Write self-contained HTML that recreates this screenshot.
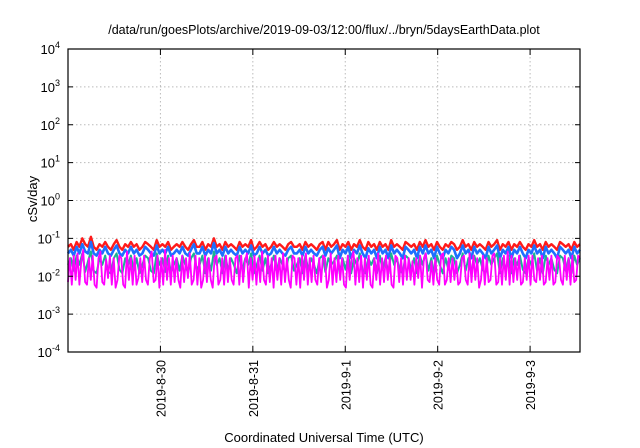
<!DOCTYPE html>
<html><head><meta charset="utf-8"><style>
body{margin:0;background:#fff}
svg{display:block;font-family:"Liberation Sans",sans-serif}
</style></head><body>
<svg id="c" width="640" height="448">
<text x="324" y="34" font-size="12.5" text-anchor="middle">/data/run/goesPlots/archive/2019-09-03/12:00/flux/../bryn/5daysEarthData.plot</text>
<text transform="translate(37,199) rotate(-90)" font-size="13" text-anchor="middle">cSv/day</text>
<text x="324" y="442" font-size="13" text-anchor="middle">Coordinated Universal Time (UTC)</text>
<g id="grid"></g><g id="series"></g><g id="axes"></g>
</svg>
<script>
const yExps=[-4,-3,-2,-1,0,1,2,3,4];
const dayLabels=["2019-8-30","2019-8-31","2019-9-1","2019-9-2","2019-9-3"];
const dayOffsets=[1,2,3,4,5];
const redA=[0.06,0.07,0.05,0.08,0.06,0.1,0.07,0.06,0.11,0.06,0.05,0.07,0.06,0.08,0.06,0.05,0.07,0.09,0.06,0.05,0.07,0.06,0.08,0.06,0.07,0.05,0.06,0.08,0.07,0.06,0.05,0.09,0.06,0.07,0.06,0.08,0.05,0.06,0.07,0.06,0.08,0.06,0.05,0.07,0.09,0.06,0.06,0.08,0.05,0.07,0.06,0.1,0.06,0.07,0.05,0.08,0.06,0.07,0.06,0.05,0.08,0.06,0.07,0.06,0.09,0.05,0.06,0.08,0.06,0.07,0.05,0.06,0.08,0.06,0.07,0.06,0.05,0.07,0.08,0.06,0.06,0.07,0.05,0.08,0.06,0.07,0.06,0.05,0.07,0.08];
const redB=[0.05,0.08,0.06,0.07,0.09,0.05,0.07,0.06,0.08,0.05,0.07,0.06,0.09,0.06,0.05,0.08,0.06,0.07,0.05,0.08,0.06,0.07,0.05,0.09,0.06,0.07,0.06,0.05,0.08,0.07,0.06,0.07,0.05,0.08,0.06,0.09,0.06,0.07,0.05,0.08,0.06,0.05,0.07,0.06,0.08,0.07,0.05,0.06,0.09,0.06,0.07,0.05,0.08,0.06,0.07,0.06,0.05,0.08,0.06,0.07,0.09,0.05,0.07,0.06,0.08,0.05,0.07,0.06,0.08,0.06,0.05,0.07,0.06,0.09,0.06,0.07,0.05,0.08,0.06,0.07,0.06,0.05,0.08,0.07,0.06,0.07,0.05,0.08,0.06,0.07];
const blueA=[0.04,0.05,0.035,0.06,0.04,0.07,0.045,0.04,0.08,0.04,0.035,0.05,0.04,0.06,0.04,0.035,0.05,0.065,0.04,0.035,0.05,0.04,0.06,0.04,0.05,0.035,0.04,0.06,0.05,0.04,0.035,0.065,0.04,0.05,0.04,0.06,0.035,0.04,0.05,0.04,0.06,0.04,0.035,0.05,0.07,0.04,0.04,0.06,0.035,0.05,0.04,0.075,0.04,0.05,0.035,0.06,0.04,0.05,0.04,0.035,0.06,0.04,0.05,0.04,0.065,0.035,0.04,0.06,0.04,0.05,0.035,0.04,0.06,0.04,0.05,0.04,0.035,0.05,0.06,0.04,0.04,0.05,0.035,0.06,0.04,0.05,0.04,0.035,0.05,0.06];
const blueB=[0.035,0.055,0.04,0.05,0.065,0.03,0.05,0.04,0.06,0.03,0.05,0.04,0.065,0.04,0.03,0.055,0.04,0.05,0.03,0.06,0.04,0.05,0.03,0.065,0.04,0.05,0.04,0.03,0.06,0.05,0.04,0.05,0.03,0.06,0.04,0.065,0.04,0.05,0.03,0.06,0.04,0.03,0.05,0.04,0.06,0.05,0.03,0.04,0.065,0.04,0.05,0.03,0.06,0.04,0.05,0.04,0.03,0.06,0.04,0.05,0.065,0.03,0.05,0.04,0.06,0.03,0.05,0.04,0.06,0.04,0.03,0.05,0.04,0.065,0.04,0.05,0.03,0.06,0.04,0.05,0.04,0.03,0.06,0.05,0.04,0.05,0.03,0.06,0.04,0.05];
const tealA=[0.02,0.03,0.014,0.035,0.02,0.04,0.013,0.025,0.045,0.014,0.012,0.03,0.02,0.035,0.013,0.012,0.03,0.04,0.015,0.012,0.03,0.02,0.035,0.014,0.03,0.012,0.02,0.035,0.03,0.014,0.012,0.04,0.02,0.03,0.013,0.035,0.012,0.02,0.03,0.014,0.035,0.02,0.012,0.03,0.04,0.015,0.02,0.035,0.012,0.03,0.014,0.045,0.02,0.03,0.012,0.035,0.014,0.03,0.02,0.012,0.035,0.015,0.03,0.02,0.04,0.012,0.02,0.035,0.014,0.03,0.012,0.02,0.035,0.014,0.03,0.02,0.012,0.03,0.035,0.014,0.02,0.03,0.012,0.035,0.015,0.03,0.02,0.012,0.03,0.035];
const tealB=[0.013,0.03,0.02,0.025,0.035,0.012,0.03,0.015,0.035,0.012,0.03,0.02,0.04,0.014,0.012,0.03,0.02,0.03,0.012,0.035,0.015,0.03,0.012,0.04,0.02,0.03,0.014,0.012,0.035,0.03,0.015,0.03,0.012,0.035,0.02,0.04,0.014,0.03,0.012,0.035,0.02,0.012,0.03,0.015,0.035,0.03,0.012,0.02,0.04,0.014,0.03,0.012,0.035,0.02,0.03,0.015,0.012,0.035,0.02,0.03,0.04,0.012,0.03,0.014,0.035,0.012,0.03,0.02,0.035,0.015,0.012,0.03,0.02,0.04,0.014,0.03,0.012,0.035,0.02,0.03,0.015,0.012,0.035,0.03,0.014,0.03,0.012,0.035,0.02,0.03];
const magA=[0.007,0.03,0.006,0.035,0.008,0.04,0.006,0.025,0.05,0.007,0.006,0.03,0.008,0.035,0.006,0.005,0.03,0.045,0.007,0.006,0.028,0.009,0.035,0.006,0.03,0.005,0.008,0.035,0.03,0.006,0.005,0.045,0.008,0.03,0.006,0.035,0.006,0.009,0.03,0.007,0.035,0.008,0.006,0.03,0.045,0.007,0.008,0.035,0.005,0.03,0.006,0.05,0.008,0.03,0.006,0.035,0.007,0.03,0.008,0.005,0.035,0.007,0.03,0.009,0.04,0.006,0.008,0.035,0.006,0.03,0.005,0.008,0.035,0.007,0.03,0.008,0.005,0.03,0.035,0.006,0.008,0.03,0.006,0.035,0.007,0.03,0.008,0.006,0.03,0.035];
const magB=[0.006,0.035,0.007,0.025,0.04,0.005,0.03,0.008,0.035,0.006,0.03,0.007,0.045,0.008,0.006,0.035,0.007,0.03,0.005,0.035,0.008,0.03,0.006,0.04,0.007,0.03,0.008,0.005,0.035,0.03,0.006,0.03,0.005,0.035,0.008,0.04,0.006,0.03,0.007,0.035,0.008,0.006,0.03,0.007,0.035,0.03,0.005,0.008,0.04,0.006,0.03,0.007,0.035,0.008,0.03,0.006,0.005,0.035,0.008,0.03,0.045,0.006,0.03,0.007,0.035,0.005,0.03,0.008,0.035,0.006,0.005,0.03,0.008,0.04,0.006,0.03,0.007,0.035,0.008,0.03,0.006,0.005,0.035,0.03,0.007,0.03,0.006,0.035,0.008,0.03];
const magC=[0.008,0.025,0.006,0.03,0.009,0.035,0.005,0.03,0.04,0.008,0.007,0.025,0.006,0.03,0.008,0.006,0.035,0.04,0.006,0.008,0.03,0.007,0.03,0.008,0.025,0.006,0.007,0.03,0.035,0.008,0.006,0.04,0.007,0.035,0.008,0.03,0.005,0.008,0.035,0.006,0.03,0.007,0.008,0.035,0.04,0.006,0.007,0.03,0.006,0.035,0.008,0.045,0.006,0.035,0.007,0.03,0.008,0.035,0.006,0.007,0.03,0.008,0.035,0.006,0.035,0.008,0.007,0.03,0.008,0.035,0.006,0.007,0.03,0.008,0.035,0.006,0.007,0.035,0.03,0.008,0.006,0.035,0.008,0.03,0.006,0.035,0.007,0.008,0.035,0.03];
const red=redA.concat(redB),blue=blueA.concat(blueB),teal=tealA.concat(tealB),magenta=magA.concat(magB,magC);
const L=68,R=580,T=49,B=352,span=5.54;
const ns="http://www.w3.org/2000/svg";
const yPos=v=>B-(Math.log10(v)+4)/8*(B-T);
const xPos=d=>L+d/span*(R-L);
function mk(tag,attrs,parent){const e=document.createElementNS(ns,tag);for(const k in attrs)e.setAttribute(k,attrs[k]);parent.appendChild(e);return e;}
const grid=document.getElementById('grid'),axes=document.getElementById('axes'),ser=document.getElementById('series');
yExps.forEach(p=>{const y=yPos(Math.pow(10,p));
 if(p>-4&&p<4){const g=mk('line',{x1:L,x2:R,y1:y,y2:y,stroke:'#bbb','stroke-dasharray':'1.5,2.5'},grid);
 
 }
 const t=mk('text',{x:L-8,y:y+5,'font-size':'13','text-anchor':'end'},axes);
 
 
 t.innerHTML='10<tspan dy="-6" font-size="9">'+p+'</tspan>';
 mk('line',{x1:L,x2:L+5,y1:y,y2:y,stroke:'#000'},axes);mk('line',{x1:R,x2:R-5,y1:y,y2:y,stroke:'#000'},axes);});
dayOffsets.forEach((d,i)=>{const x=xPos(d);
 const g=mk('line',{x1:x,x2:x,y1:T,y2:B,stroke:'#bbb','stroke-dasharray':'1.5,2.5'},grid);
 
 
 mk('line',{x1:x,x2:x,y1:B,y2:B-6,stroke:'#000'},axes);mk('line',{x1:x,x2:x,y1:T,y2:T+6,stroke:'#000'},axes);
 const t=mk('text',{transform:`translate(${x+5},${B+8}) rotate(-90)`,'font-size':'12.5','text-anchor':'end'},axes);
 
 
 t.textContent=dayLabels[i];});
const fr=mk('rect',{x:L,y:T,width:R-L,height:B-T,fill:'none',stroke:'#000','stroke-width':1.2},axes);


function draw(arr,color,name,w){const pts=arr.map((v,i)=>xPos(i/(arr.length-1)*span).toFixed(1)+','+yPos(v).toFixed(1)).join(' ');
 const p=mk('polyline',{points:pts,fill:'none',stroke:color,'stroke-width':w,'stroke-linejoin':'round'},ser);
 
 }
draw(red,'#ff1a1a','series-red',2.4);
draw(blue,'#1e6fff','series-blue',2.6);
draw(teal,'#1ab394','series-teal',2);
draw(magenta,'#ff00ff','series-magenta',1.8);
</script>
</body></html>
